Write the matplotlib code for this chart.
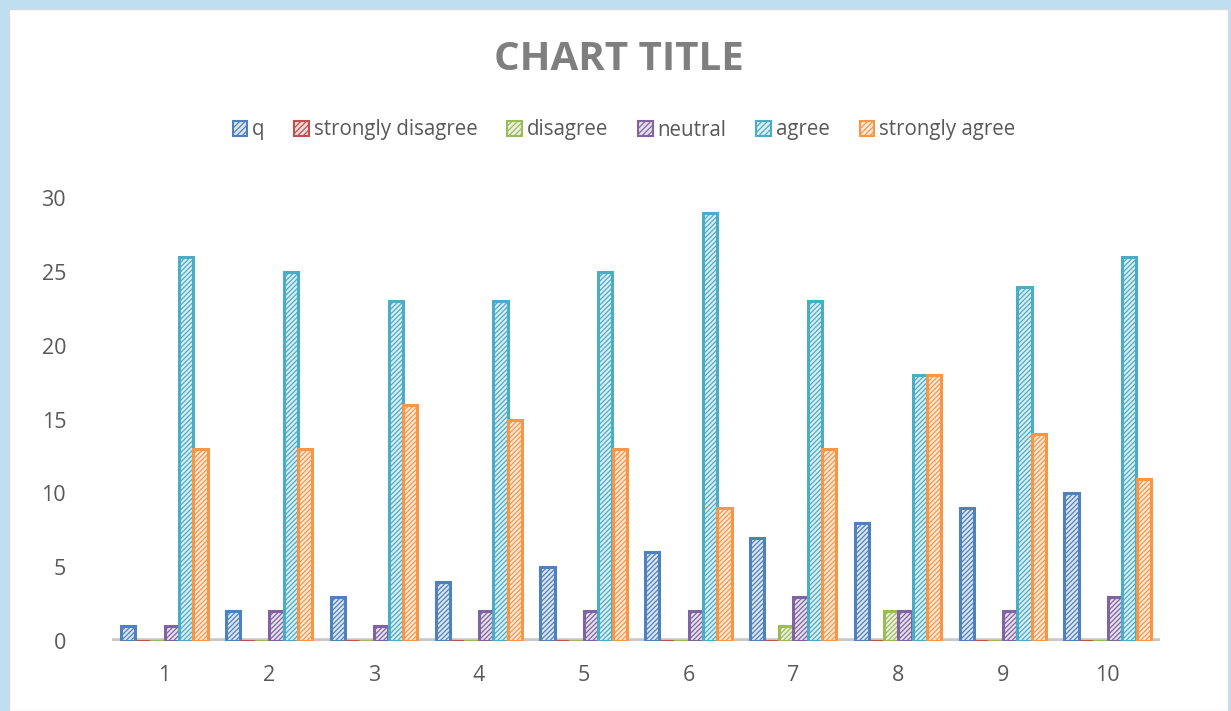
import matplotlib
matplotlib.use("Agg")
import matplotlib.pyplot as plt
from matplotlib.patches import Rectangle, Patch
import numpy as np

categories = ["1", "2", "3", "4", "5", "6", "7", "8", "9", "10"]
series_names = ["q", "strongly disagree", "disagree", "neutral", "agree", "strongly agree"]
q = [1, 2, 3, 4, 5, 6, 7, 8, 9, 10]
strongly_disagree = [0, 0, 0, 0, 0, 0, 0, 0, 0, 0]
disagree = [0, 0, 0, 0, 0, 0, 1, 2, 0, 0]
neutral = [1, 2, 1, 2, 2, 2, 3, 2, 2, 3]
agree = [26, 25, 23, 23, 25, 29, 23, 18, 24, 26]
strongly_agree = [13, 13, 16, 15, 13, 9, 13, 18, 14, 11]
y_ticks = [0, 5, 10, 15, 20, 25, 30]

series = [q, strongly_disagree, disagree, neutral, agree, strongly_agree]
edge_colors = ["#4F81BD", "#C0504D", "#9BBB59", "#8064A2", "#4BACC6", "#F79646"]
fill_colors = ["#DCE6F2", "#F2DCDB", "#EBF1DE", "#E6E0EC", "#DBEEF4", "#FDE9D9"]

plt.rcParams["font.family"] = ["Open Sans", "DejaVu Sans"]
plt.rcParams["hatch.linewidth"] = 0.9

fig = plt.figure(figsize=(12.31, 7.11), dpi=100)
fig.patch.set_facecolor("#BFDEEF")
fig.add_artist(Rectangle((9 / 1231, 0), (1228 - 9) / 1231, (711 - 9) / 711,
                         transform=fig.transFigure, facecolor="white",
                         edgecolor="#D9D9D9", linewidth=1, zorder=0))

ax = fig.add_axes([112 / 1231, 1 - 641 / 711, (1160 - 112) / 1231, (641 - 198) / 711])
ax.set_facecolor("none")

x = np.arange(1, len(categories) + 1)
w = 0.138
for i, (vals, ec, fc, name) in enumerate(zip(series, edge_colors, fill_colors, series_names)):
    ax.bar(x + (i - 2.5) * w, vals, width=w * 0.98, facecolor=fc, edgecolor=ec,
           hatch="///////", linewidth=2.2, label=name, zorder=3)

# floor line
ax.axhline(0, color="#C8C8C8", linewidth=4, zorder=1)

ax.set_xlim(0.5, 10.5)
ax.set_ylim(0, 30)
ax.set_yticks(y_ticks)
ax.set_xticks(x)
ax.set_xticklabels(categories)
ax.tick_params(axis="both", length=0, labelsize=15.5, labelcolor="#595959")
ax.tick_params(axis="y", pad=33)
ax.tick_params(axis="x", pad=17)
for lab in ax.get_yticklabels():
    lab.set_horizontalalignment("right")
for s in ax.spines.values():
    s.set_visible(False)

fig.text(619 / 1231, 1 - 60 / 711, "CHART TITLE", ha="center", va="center",
         fontsize=29, fontweight="bold", color="#7F7F7F")

handles = [Patch(facecolor=fc, edgecolor=ec, hatch="//////", linewidth=1.5, label=n)
           for ec, fc, n in zip(edge_colors, fill_colors, series_names)]
fig.legend(handles=handles, loc="center", bbox_to_anchor=(624 / 1231, 1 - 130 / 711),
           ncol=6, frameon=False, fontsize=14.8, labelcolor="#595959",
           handlelength=0.7, handleheight=0.7, handletextpad=0.25, columnspacing=1.45)

fig.savefig("out.png", dpi=100, facecolor=fig.get_facecolor())
